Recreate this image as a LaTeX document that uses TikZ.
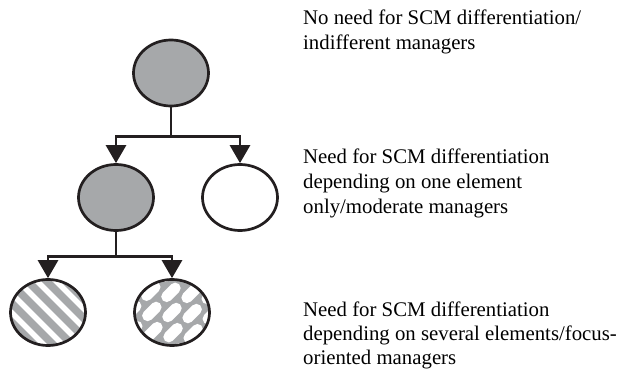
\documentclass[tikz,border=0pt]{standalone}
\usepackage{fontspec}
\setmainfont{Liberation Serif}
\usetikzlibrary{shapes.geometric,arrows.meta,calc}
\definecolor{fillgray}{RGB}{166,168,170}
\definecolor{inkblack}{RGB}{35,31,32}
\begin{document}
\begin{tikzpicture}[x=1pt,y=-1pt,
  bubble/.style={ellipse, draw=inkblack, line width=2.7pt, minimum width=75pt, minimum height=66pt, inner sep=0pt},
  conn/.style={draw=inkblack, line width=2.7pt},
  arr/.style={conn, -{Triangle[width=20pt,length=18pt]}},
  desc/.style={anchor=base west, align=left, inner sep=0pt, font=\fontsize{20.8}{25}\selectfont}]
\useasboundingbox (0,0) rectangle (625,369);
% patterned backgrounds
\begin{scope}
  \clip (48,312.5) ellipse [x radius=37.5, y radius=33];
  \fill[fillgray] (0,270) rectangle (100,360);
  \foreach \k in {-8,...,8}
    \draw[white, line width=5.5pt] (48+\k*19+1.4-70, 312.5-70) -- ++(140,140);
\end{scope}
\begin{scope}
  \clip (172,312.5) ellipse [x radius=37.5, y radius=33];
  \fill[fillgray] (120,270) rectangle (225,360);
  \begin{scope}[shift={(172,312.5)}, rotate=45]
    \foreach \r in {-4,...,4}
      \foreach \c in {-4,...,4}
        \fill[white, rounded corners=5.5pt]
          ({\c*27+mod(\r+8,2)*13.5-11.5}, {\r*15-5.5}) rectangle ++(23,11);
  \end{scope}
\end{scope}
% nodes
\node[bubble, fill=fillgray] (top) at (171,73) {};
\node[bubble, fill=fillgray] (midL) at (116,197.5) {};
\node[bubble, fill=white] (midR) at (240,197.5) {};
\node[bubble] (botL) at (48,312.5) {};
\node[bubble] (botR) at (172,312.5) {};
% connectors
\coordinate (j1) at (171,136.5);
\coordinate (j2) at (116,256.5);
\draw[conn] (top.south) -- (j1);
\draw[arr] (j1) -| (midL.north);
\draw[arr] (j1) -| (midR.north);
\draw[conn] (midL.south) -- (j2);
\draw[arr] (j2) -| (botL.north);
\draw[arr] (j2) -| (botR.north);
% texts (anchor = baseline of the last line)
\node[desc] (d1) at (303,50) {No need for SCM differentiation/\\indifferent managers};
\node[desc] (d2) at (303,213.5) {Need for SCM differentiation\\depending on one element\\only/moderate managers};
\node[desc, font=\fontsize{20.8}{24}\selectfont] (d3) at (303,364.3) {Need for SCM differentiation\\depending on several elements/focus-\\oriented managers};
\end{tikzpicture}
\end{document}
